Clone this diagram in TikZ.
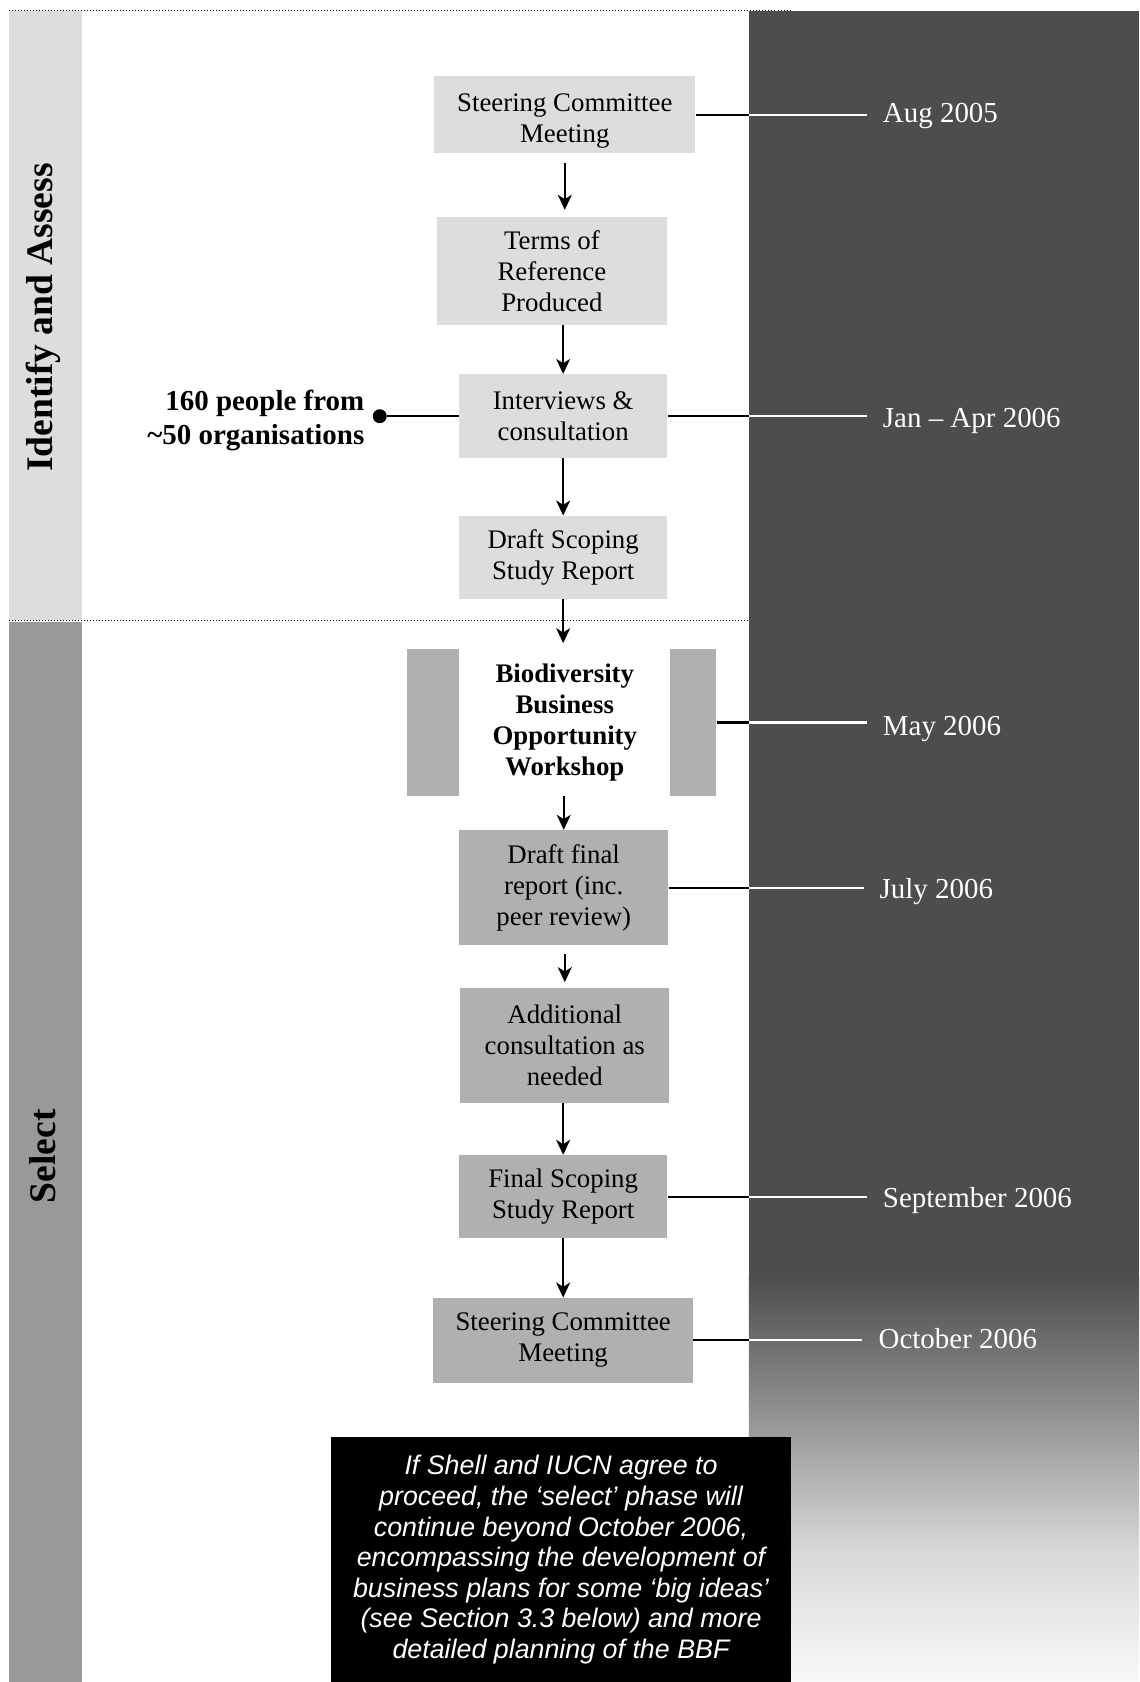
\documentclass[tikz,border=0pt]{standalone}
\usepackage{fontspec}
\setmainfont{Liberation Serif}
\setsansfont{Liberation Sans}
\usepackage{tikz}
\usetikzlibrary{arrows.meta}
\usetikzlibrary{positioning}
\definecolor{paleband}{HTML}{DDDDDD}
\definecolor{midband}{HTML}{999999}
\definecolor{latebox}{HTML}{B0B0B0}
\definecolor{panel}{HTML}{4D4D4D}
\definecolor{fadeA}{HTML}{A5A5A5}
\definecolor{fadeB}{HTML}{D8D8D8}
\definecolor{fadeC}{HTML}{F9F9F9}
\tikzset{
    phase/.style={
        fill=paleband,
        inner sep=0pt,
        align=center,
        font=\fontsize{12.5}{14.5}\selectfont
    },
    flow/.style={
        draw,
        -{Stealth[length=7pt, width=6.5pt, inset=2pt]},
        line width=0.9pt
    },
    tick/.style={draw, line width=1pt},
    datelabel/.style={anchor=west, text=white, font=\fontsize{13.5}{16}\selectfont}
}

\begin{document}
\begin{tikzpicture}[x=0.5pt, y=-0.5pt]
    \useasboundingbox (0,0) rectangle (1062,1568);
    % Background
    \fill[paleband] (8,10) rectangle (76,578);
    \fill[midband] (8,580) rectangle (76,1568);
    \fill[panel] (698,10) rectangle (1062,1191);
    \shade[top color=panel, bottom color=fadeA] (698,1190) rectangle (1062,1353);
    \shade[top color=fadeA, bottom color=fadeB] (698,1352) rectangle (1062,1446);
    \shade[top color=fadeB, bottom color=fadeC] (698,1445) rectangle (1062,1568);
    \draw[densely dotted, line width=0.4pt] (8,10) -- (738,10);
    \draw[densely dotted, line width=0.4pt] (8,578) -- (698,578);
    \coordinate (edge) at (698,0);

    % Phase labels
    \node[rotate=90, font=\bfseries\fontsize{17.5}{21}\selectfont] (identify) at (40,296) {Identify and Assess};
    \node[rotate=90, font=\bfseries\fontsize{17.5}{21}\selectfont] (select) at (40,1078) {Select};

    % Steps
    \node[phase, minimum width=121.5pt, minimum height=36pt] (sc1) at (526.5,107) {\rule{0pt}{14pt}Steering Committee\\Meeting};
    \node[phase, minimum width=107.5pt, minimum height=50.5pt] (tor) at (514.5,252.5) {Terms of\\Reference\\Produced};
    \node[phase, minimum width=97pt, minimum height=39pt] (interviews) at (525,388) {Interviews \&\\consultation};
    \node[phase, minimum width=97pt, minimum height=38.5pt] (dssr) at (525,519.5) {Draft Scoping\\Study Report};
    \node[phase, fill=none, font=\bfseries\fontsize{12.5}{14.35}\selectfont, minimum width=97.5pt, minimum height=68.5pt] (workshop) at (526.5,673.5) {Biodiversity\\Business\\Opportunity\\Workshop};
    \node[fill=latebox, inner sep=0pt, minimum width=24.5pt, minimum height=68.5pt, left=0pt of workshop] (barL) {};
    \node[fill=latebox, inner sep=0pt, minimum width=21.5pt, minimum height=68.5pt, right=0pt of workshop] (barR) {};
    \node[phase, fill=latebox, minimum width=97.5pt, minimum height=53.5pt] (dfr) at (525.5,827.5) {Draft final\\report (inc.\\peer review)};
    \node[phase, fill=latebox, minimum width=97.5pt, minimum height=53.5pt] (addcons) at (526.5,974.5) {Additional\\consultation as\\needed};
    \node[phase, fill=latebox, minimum width=97pt, minimum height=38.5pt] (fssr) at (525,1115.5) {Final Scoping\\Study Report};
    \node[phase, fill=latebox, minimum width=121pt, minimum height=39.5pt] (sc2) at (525,1249.5) {Steering Committee\\Meeting};

    % People
    \node[font=\bfseries\fontsize{13.5}{16}\selectfont, align=right, anchor=east, inner sep=0pt] (people) at (340,392) {160 people from\\\textasciitilde50 organisations};
    \node[circle, fill, inner sep=0pt, minimum size=6.5pt] (dot) at (354,388) {};

    % Dates
    \node[datelabel] (aug) at (816,108) {Aug 2005};
    \node[datelabel] (jan) at (816,392) {Jan -- Apr 2006};
    \node[datelabel] (may) at (816,680) {May 2006};
    \node[datelabel] (jul) at (813,831) {July 2006};
    \node[datelabel] (sep) at (816,1119) {September 2006};
    \node[datelabel] (oct) at (812,1248) {October 2006};

    % Note
    \node[fill=black, text=white, minimum width=214pt, minimum height=114pt, align=center,
          font=\sffamily\itshape\fontsize{12.5}{14.25}\selectfont] (note) at (523,1454)
          {If Shell and IUCN agree to\\proceed, the ‘select’ phase will\\continue beyond October 2006,\\encompassing the development of\\business plans for some ‘big ideas’\\(see Section 3.3 below) and more\\detailed planning of the BBF};

    % Arrows
    \draw[flow, shorten <=4.5pt, shorten >=3pt] (sc1.south) -- (sc1.south |- tor.north);
    \draw[flow] (tor.south -| interviews.north) -- (interviews.north);
    \draw[flow] (interviews) -- (dssr);
    \draw[flow, shorten >=2.5pt] (dssr.south) -- (dssr.south |- workshop.north);
    \draw[flow] (workshop.south -| dfr.north) -- (dfr.north);
    \draw[flow, shorten <=4pt, shorten >=2.5pt] (dfr.south -| addcons.north) -- (addcons.north);
    \draw[flow] (addcons.south -| fssr.north) -- (fssr.north);
    \draw[flow] (fssr) -- (sc2);
    \draw[tick] (dot) -- (interviews.west);

    % Timeline ticks
    \foreach \step/\when in {sc1/aug, interviews/jan, barR/may, dfr/jul, fssr/sep, sc2/oct} {
        \draw[tick] (\step.east) -- (\step.east -| edge);
        \draw[tick, white, shorten >=4pt] (\step.east -| edge) -- (\step.east -| \when.west);
    }
\end{tikzpicture}
\end{document}
